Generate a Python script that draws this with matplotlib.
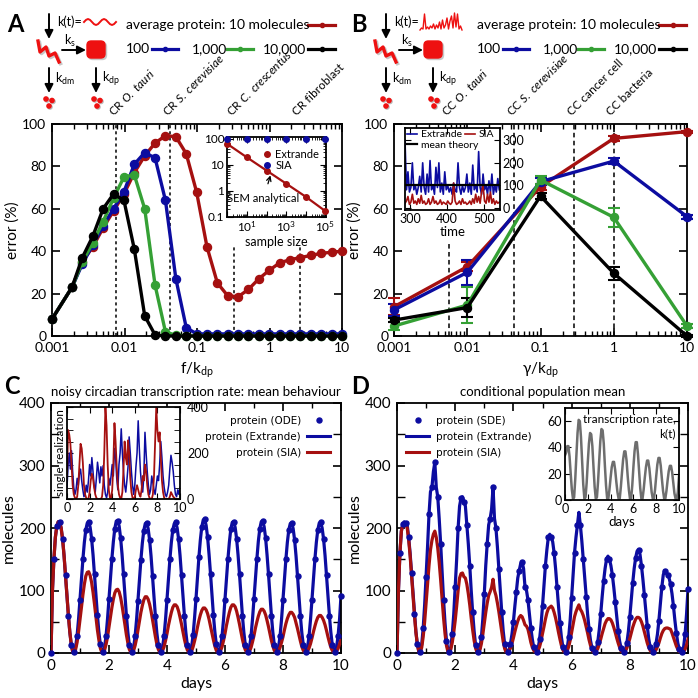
import numpy as np
import matplotlib
matplotlib.use('Agg')
import matplotlib.pyplot as plt
from matplotlib.patches import FancyBboxPatch, Circle
from matplotlib.lines import Line2D
from matplotlib.ticker import LogLocator, NullFormatter, FixedLocator, MultipleLocator, FixedFormatter

plt.rcParams['font.family'] = ['Lato', 'DejaVu Sans']
plt.rcParams['mathtext.fontset'] = 'custom'
plt.rcParams['mathtext.rm'] = 'Lato'
plt.rcParams['mathtext.it'] = 'Lato:italic'
plt.rcParams['mathtext.bf'] = 'Lato:bold'
plt.rcParams['axes.linewidth'] = 1.3
plt.rcParams['xtick.direction'] = 'in'
plt.rcParams['ytick.direction'] = 'in'

RED = '#a51010'
BLUE = '#0c0ca0'
GREEN = '#35a035'
BLACK = '#000000'
GREY = '#6e6e6e'

# ---------------- Panel A data ----------------
f_ratio = [0.001, 0.00189, 0.00262, 0.00365, 0.00507, 0.00706, 0.00982, 0.01365, 0.0190,
           0.0264, 0.0367, 0.0511, 0.0710, 0.0986, 0.1374, 0.191, 0.265, 0.369, 0.513,
           0.714, 0.993, 1.38, 1.92, 2.67, 3.71, 5.16, 7.18, 10.0]
err_a_10 = [8, 23, 35, 42, 51, 59, 67, 77, 85, 91, 94.5, 94, 86, 68, 42, 25, 19, 18.5, 22,
            27, 31, 34.5, 36, 37, 38, 39, 39.5, 40]
err_a_100 = [8, 23, 34, 43, 52, 60, 68, 81, 86.5, 84, 64, 27, 4, 1, 1, 1, 1, 1, 1,
             1, 1, 1, 1, 1, 1, 1, 1, 1]
err_a_1000 = [8, 23, 35, 44, 54, 65, 75, 76, 60, 24, 2, 0.3, 0, 0, 0, 0, 0, 0, 0,
              0, 0, 0, 0, 0, 0, 0, 0, 0]
err_a_10000 = [8, 23, 37, 47, 60, 67, 64, 41, 9.5, 0.5, 0, 0, 0, 0, 0, 0, 0, 0, 0,
               0, 0, 0, 0, 0, 0, 0, 0, 0]
cr_lines_a = [0.0077, 0.043, 0.32, 2.6]
cr_tops_a = [1.0, 1.0, 0.42, 0.42]
cr_labels_a = ['CR $\\it{O.\\ tauri}$', 'CR $\\it{S.\\ cerevisiae}$',
               'CR $\\it{C.\\ crescentus}$', 'CR fibroblast']

sample_size = [1, 10, 100, 1000, 10000, 100000]
sem_extrande = [62, 19, 6, 1.9, 0.6, 0.17]
err_sia_inset = [97, 97, 95, 96, 95, 95]

# ---------------- Panel B data ----------------
gamma_ratio = [0.001, 0.01, 0.1, 1, 10]
err_b_10 = [13.8, 32.7, 70.4, 93.2, 96.4]
sd_b_10 = [4, 2, 1.5, 1, 0.5]
err_b_100 = [12.3, 30, 72.8, 82.5, 56.3]
sd_b_100 = [3, 6, 1.5, 1.5, 1]
err_b_1000 = [4.7, 14.6, 73.6, 56, 4.7]
sd_b_1000 = [2, 8.5, 2, 4.5, 1]
err_b_10000 = [7.5, 13.4, 66, 29.6, 0]
sd_b_10000 = [1, 4.5, 1.5, 3, 0.5]
cc_lines_b = [0.0057, 0.044, 0.29, 1.0]
cc_tops_b = [0.45, 1.0, 1.0, 1.0]
cc_labels_b = ['CC $\\it{O.\\ tauri}$', 'CC $\\it{S.\\ cerevisiae}$', 'CC cancer cell', 'CC bacteria']

time_b = [286, 290, 294, 298, 302, 306, 310, 314, 318, 322, 326, 330, 334, 338, 342, 346,
          350, 354, 358, 362, 366, 370, 374, 378, 382, 386, 390, 394, 398, 402, 406, 410,
          414, 418, 422, 426, 430, 434, 438, 442, 446, 450, 454, 458, 462, 466, 470, 474,
          478, 482, 486, 490, 494, 498, 502, 506, 510, 514, 518, 522, 526, 530, 534, 538, 542]
extrande_b = [300, 80, 160, 70, 90, 200, 80, 100, 60, 90, 140, 70, 200, 90, 60, 150,
              70, 210, 80, 100, 60, 180, 90, 200, 70, 110, 60, 160, 80, 100, 70, 90,
              60, 110, 80, 70, 200, 90, 60, 100, 70, 90, 150, 70, 110, 60, 190, 80,
              100, 70, 250, 90, 60, 150, 80, 100, 60, 120, 70, 150, 60, 100, 70, 130, 80]
sia_b = [20, 30, 50, 15, 25, 60, 20, 30, 15, 40, 20, 55, 20, 30, 15, 20,
         40, 15, 25, 50, 20, 30, 15, 20, 35, 15, 25, 20, 15, 30, 20, 15,
         25, 110, 30, 15, 20, 30, 15, 40, 20, 25, 15, 20, 30, 15, 40, 20,
         60, 25, 50, 20, 70, 100, 30, 20, 60, 25, 70, 20, 40, 15, 30, 20, 25]
mean_theory_b = 100

# ---------------- Panel C data ----------------
t_line = np.linspace(0, 10, 201)
extrande_c = [0, 100, 150, 185, 203, 210, 209, 200, 182, 156, 125, 92, 60, 33, 13, 2,
              1, 10, 28, 54, 85, 118, 150, 177, 197, 208, 210, 201, 183, 157, 126, 93, 61, 34, 14, 3,
              1, 10, 28, 55, 86, 119, 151, 178, 199, 211, 212, 203, 184, 158, 126, 92, 60, 33, 13, 2,
              1, 9, 27, 53, 84, 117, 149, 176, 196, 207, 208, 199, 181, 155, 124, 91, 59, 32, 13, 2,
              1, 10, 28, 54, 85, 118, 150, 177, 197, 207, 209, 200, 182, 156, 125, 92, 60, 33, 13, 2,
              1, 10, 29, 56, 87, 121, 153, 181, 202, 213, 214, 204, 185, 158, 127, 93, 61, 34, 14, 2,
              1, 10, 28, 54, 85, 118, 150, 177, 198, 209, 210, 201, 183, 157, 126, 92, 60, 33, 13, 2,
              1, 10, 28, 55, 86, 119, 151, 179, 199, 210, 211, 202, 184, 157, 126, 92, 60, 33, 13, 2,
              1, 10, 28, 54, 85, 118, 150, 177, 197, 207, 208, 199, 181, 155, 124, 91, 59, 32, 13, 2,
              1, 10, 28, 54, 85, 118, 150, 177, 197, 208, 209, 200, 182, 156, 125, 92, 60, 33, 13, 2,
              1, 10, 28, 54, 92]
sia_c = [0, 100, 150, 185, 203, 210, 209, 200, 182, 156, 125, 92, 60, 33, 13, 2,
         1, 6, 17, 34, 53, 73, 93, 110, 123, 129, 130, 124, 113, 97, 78, 57, 37, 21, 8, 1,
         1, 5, 14, 26, 42, 58, 73, 86, 96, 101, 102, 98, 89, 76, 61, 45, 29, 16, 6, 1,
         0, 4, 12, 23, 37, 51, 65, 76, 85, 90, 90, 86, 78, 67, 54, 40, 26, 14, 6, 1,
         0, 4, 10, 20, 31, 44, 55, 65, 73, 77, 77, 74, 67, 57, 46, 34, 22, 12, 5, 1,
         0, 3, 10, 19, 29, 41, 52, 61, 68, 72, 72, 69, 63, 54, 43, 32, 21, 11, 4, 1,
         0, 4, 10, 20, 31, 44, 55, 65, 73, 77, 77, 74, 67, 57, 46, 34, 22, 12, 5, 1,
         0, 3, 9, 18, 28, 40, 50, 59, 66, 70, 70, 67, 61, 52, 42, 31, 20, 11, 4, 1,
         0, 3, 9, 17, 26, 37, 47, 55, 61, 65, 65, 62, 57, 48, 39, 29, 19, 10, 4, 1,
         0, 3, 8, 15, 24, 34, 43, 51, 57, 60, 60, 57, 52, 45, 36, 26, 17, 9, 4, 1,
         0, 3, 7, 14, 22]

t_single = np.linspace(0, 10, 101)
single_sia = [100, 300, 280, 240, 150, 60, 20, 5, 0, 10,
              60, 150, 240, 220, 160, 60, 20, 5, 0, 0,
              30, 80, 110, 90, 50, 20, 5, 0, 0, 0,
              0, 10, 60, 200, 400, 320, 150, 40, 5, 0,
              40, 150, 330, 250, 140, 60, 20, 5, 0, 30,
              130, 250, 180, 150, 255, 200, 90, 30, 5, 0,
              10, 40, 60, 40, 20, 10, 40, 100, 80, 150,
              120, 60, 20, 5, 0, 0, 20, 100, 250, 400,
              300, 250, 290, 180, 80, 30, 5, 0, 0, 0,
              0, 10, 30, 20, 10, 5, 0, 0, 0, 0, 0]
single_extrande = [50, 150, 200, 130, 210, 120, 50, 20, 40, 90,
                   60, 110, 130, 80, 40, 10, 20, 60, 30, 80,
                   150, 100, 180, 120, 60, 30, 90, 160, 120, 70,
                   140, 100, 145, 60, 20, 5, 30, 90, 60, 100,
                   150, 100, 220, 180, 90, 40, 150, 200, 305, 200,
                   120, 60, 30, 80, 140, 270, 200, 120, 60, 20,
                   60, 140, 200, 340, 220, 120, 60, 30, 100, 290,
                   200, 120, 60, 20, 40, 100, 70, 40, 20, 60,
                   100, 80, 150, 250, 180, 100, 50, 20, 10, 30,
                   60, 130, 190, 160, 120, 60, 20, 10, 40, 20, 50]

# ---------------- Panel D data ----------------
extrande_d = [0, 100, 160, 195, 207, 210, 208, 205, 185, 160, 128, 94, 62, 34, 14, 3,
              2, 14, 40, 77, 122, 170, 222, 258, 265, 290, 305, 265, 250, 215, 175, 130, 85, 48, 20, 4,
              1, 10, 30, 62, 105, 150, 200, 235, 248, 250, 242, 235, 205, 175, 140, 100, 65, 35, 13, 2,
              1, 8, 25, 55, 95, 140, 175, 205, 215, 230, 265, 215, 200, 170, 135, 100, 65, 35, 14, 3,
              1, 5, 15, 30, 50, 75, 98, 120, 132, 143, 145, 135, 105, 100, 85, 62, 40, 22, 9, 2,
              1, 7, 22, 45, 75, 108, 140, 165, 185, 190, 185, 178, 160, 135, 105, 75, 48, 25, 10, 2,
              1, 8, 25, 52, 88, 125, 160, 185, 205, 225, 205, 180, 150, 120, 90, 62, 38, 20, 8, 2,
              1, 6, 18, 37, 62, 90, 115, 135, 150, 155, 150, 140, 125, 105, 82, 58, 36, 19, 8, 2,
              1, 5, 16, 34, 58, 85, 112, 135, 152, 163, 165, 158, 140, 118, 93, 67, 43, 23, 9, 2,
              1, 5, 15, 30, 52, 78, 105, 125, 132, 128, 125, 120, 110, 95, 75, 52, 32, 16, 6, 1,
              1, 10, 30, 62, 102]
sia_d = [0, 100, 160, 195, 205, 208, 206, 200, 182, 156, 125, 92, 60, 33, 13, 2,
         1, 9, 26, 50, 79, 110, 140, 165, 180, 190, 195, 185, 168, 145, 117, 86, 56, 31, 12, 2,
         1, 6, 17, 33, 52, 75, 100, 120, 127, 128, 122, 120, 110, 95, 77, 56, 37, 20, 8, 1,
         1, 5, 15, 30, 48, 65, 80, 92, 98, 105, 118, 100, 92, 80, 66, 50, 33, 18, 7, 1,
         0, 3, 8, 15, 24, 34, 43, 51, 57, 60, 58, 52, 45, 43, 38, 28, 17, 9, 4, 1,
         0, 4, 10, 19, 31, 42, 54, 64, 71, 73, 75, 72, 65, 56, 45, 33, 22, 12, 5, 1,
         0, 4, 10, 20, 33, 46, 58, 66, 72, 77, 70, 66, 60, 52, 42, 32, 21, 12, 5, 1,
         0, 3, 7, 14, 22, 31, 39, 47, 52, 55, 55, 53, 48, 41, 33, 24, 16, 9, 3, 1,
         0, 3, 8, 15, 23, 32, 41, 48, 54, 57, 57, 55, 50, 43, 34, 25, 16, 9, 4, 1,
         0, 2, 5, 10, 16, 24, 31, 36, 39, 40, 40, 39, 38, 32, 25, 18, 11, 6, 2, 0,
         0, 2, 6, 13, 22]

t_k = np.linspace(0, 10, 101)
k_rate = [34, 36, 41, 41, 33, 20, 8, 1, 2, 16,
          34, 51, 61, 60, 48, 30, 12, 1, 2, 13,
          29, 43, 51, 50, 41, 25, 10, 1, 2, 14,
          30, 45, 54, 53, 43, 26, 11, 1, 1, 8,
          17, 25, 29, 29, 23, 14, 6, 1, 1, 10,
          21, 31, 37, 37, 30, 18, 8, 1, 1, 11,
          25, 37, 44, 44, 35, 22, 9, 1, 1, 8,
          17, 25, 30, 30, 24, 15, 6, 1, 1, 8,
          18, 27, 32, 32, 26, 16, 7, 1, 1, 7,
          15, 22, 26, 26, 21, 13, 5, 1, 1, 6, 18]

# schematic decorations (pixel offsets)
wave_a = [0, 2.1, 3, 2.1, 0, -2.1, -3, -2.1, 0, 2.1, 3, 2.1, 0, -2.1, -3, -2.1, 0]
spikes_b = [0, 2, 1, 16, 1, 3, 1, 4, 2, 6, 1, 5, 2, 8, 1, 10, 2, 5, 12, 1, 9, 14, 2, 17, 3, 16, 1, 4, 0]

W = H = 698
fig = plt.figure(figsize=(6.98, 6.98), dpi=100)


def rect(l, t, r, b):
    return [l / W, 1 - b / H, (r - l) / W, (b - t) / H]


def style_ticks(ax, size=10):
    ax.tick_params(which='both', direction='in', top=True, right=True, labelsize=size, pad=4)
    ax.tick_params(which='major', length=6, width=1.2)
    ax.tick_params(which='minor', length=3.5, width=1.0)


# ---------------- Panel A ----------------
axA = fig.add_axes(rect(52, 124, 342, 336))
for ys, col in [(err_a_10, RED), (err_a_100, BLUE), (err_a_1000, GREEN), (err_a_10000, BLACK)]:
    axA.plot(f_ratio, ys, color=col, lw=2.4, marker='o', ms=5.8, clip_on=False, zorder=3)
axA.set_xscale('log')
axA.set_xlim(0.001, 10)
axA.set_ylim(0, 100)
axA.set_yticks([0, 20, 40, 60, 80, 100])
axA.set_xticks([0.001, 0.01, 0.1, 1, 10])
axA.set_xticklabels(['0.001', '0.01', '0.1', '1', '10'])
axA.xaxis.set_minor_locator(LogLocator(base=10, subs=np.arange(2, 10), numticks=20))
axA.xaxis.set_minor_formatter(NullFormatter())
style_ticks(axA)
for xv, top in zip(cr_lines_a, cr_tops_a):
    axA.axvline(xv, ymin=0, ymax=top, color='k', lw=1.1, ls=(0, (2, 2)), zorder=1)
for xv, lab in zip(cr_lines_a, cr_labels_a):
    axA.text(xv * 0.97, 1.03, lab, transform=axA.get_xaxis_transform(), rotation=45,
             ha='left', va='bottom', rotation_mode='anchor', fontsize=8.5)
axA.set_xlabel('f/k$_{\\rm dp}$', fontsize=11, labelpad=5)
axA.set_ylabel('error (%)', fontsize=11, labelpad=2)

# inset A
axAi = fig.add_axes(rect(227, 137, 326, 217))
axAi.plot(sample_size, sem_extrande, color=RED, lw=1.6, zorder=2)
axAi.plot(sample_size, sem_extrande, 'o', color=RED, ms=4, clip_on=False, zorder=3)
axAi.plot(sample_size, err_sia_inset, 'o', color=BLUE, ms=4, clip_on=False, zorder=3)
axAi.set_xscale('log')
axAi.set_yscale('log')
axAi.set_xlim(0.95, 1.1e5)
axAi.set_ylim(0.1, 115)
axAi.xaxis.set_major_locator(FixedLocator([1, 10, 100, 1000, 1e4, 1e5]))
axAi.xaxis.set_major_formatter(FixedFormatter(['', '10$^1$', '', '10$^3$', '', '10$^5$']))
axAi.xaxis.set_minor_locator(LogLocator(base=10, subs=np.arange(2, 10), numticks=20))
axAi.xaxis.set_minor_formatter(NullFormatter())
axAi.yaxis.set_major_locator(FixedLocator([0.1, 1, 10, 100]))
axAi.yaxis.set_major_formatter(FixedFormatter(['0.1', '1', '10', '100']))
axAi.yaxis.set_minor_locator(LogLocator(base=10, subs=np.arange(2, 10), numticks=20))
axAi.yaxis.set_minor_formatter(NullFormatter())
axAi.tick_params(which='both', direction='in', top=True, right=True, labelsize=8.5, pad=2)
axAi.tick_params(which='major', length=4)
axAi.tick_params(which='minor', length=2)
axAi.set_xlabel('sample size', fontsize=9, labelpad=1)
axAi.legend(handles=[Line2D([], [], ls='', marker='o', color=RED, ms=4, label='Extrande'),
                     Line2D([], [], ls='', marker='o', color=BLUE, ms=4, label='SIA')],
            loc='upper right', bbox_to_anchor=(1.0, 0.93), frameon=False, fontsize=8,
            handlelength=0.8, handletextpad=0.4, labelspacing=0.0, borderaxespad=0.2)
axAi.annotate('SEM analytical', xy=(166, 4.4), xytext=(70, 0.5), fontsize=8,
              ha='center', va='center',
              arrowprops=dict(arrowstyle='->', color='k', lw=0.9, shrinkA=5, shrinkB=1))

# ---------------- Panel B ----------------
axB = fig.add_axes(rect(394, 124, 687, 336))
for ys, es, col in [(err_b_10, sd_b_10, RED), (err_b_100, sd_b_100, BLUE),
                    (err_b_1000, sd_b_1000, GREEN), (err_b_10000, sd_b_10000, BLACK)]:
    axB.errorbar(gamma_ratio, ys, yerr=es, color=col, lw=2.4, marker='o', ms=5.8,
                 capsize=4.5, capthick=1.5, elinewidth=1.5, clip_on=False, zorder=3)
axB.set_xscale('log')
axB.set_xlim(0.001, 10)
axB.set_ylim(0, 100)
axB.set_yticks([0, 20, 40, 60, 80, 100])
axB.set_xticks([0.001, 0.01, 0.1, 1, 10])
axB.set_xticklabels(['0.001', '0.01', '0.1', '1', '10'])
axB.xaxis.set_minor_locator(LogLocator(base=10, subs=np.arange(2, 10), numticks=20))
axB.xaxis.set_minor_formatter(NullFormatter())
style_ticks(axB)
for xv, top in zip(cc_lines_b, cc_tops_b):
    axB.axvline(xv, ymin=0, ymax=top, color='k', lw=1.1, ls=(0, (3, 2.2)), zorder=1)
for xv, lab in zip(cc_lines_b, cc_labels_b):
    axB.text(xv * 0.97, 1.03, lab, transform=axB.get_xaxis_transform(), rotation=45,
             ha='left', va='bottom', rotation_mode='anchor', fontsize=8.5)
axB.set_xlabel('γ/k$_{\\rm dp}$', fontsize=11, labelpad=5)
axB.set_ylabel('error (%)', fontsize=11, labelpad=2)

# inset B
axBi = fig.add_axes(rect(405, 128, 500, 210))
lb1, = axBi.plot(time_b, extrande_b, color=BLUE, lw=1.2, label='Extrande')
lb2, = axBi.plot(time_b, sia_b, color=RED, lw=1.2, label='SIA')
lb3 = axBi.axhline(mean_theory_b, color='k', lw=1.6, label='mean theory')
axBi.set_xlim(286, 544)
axBi.set_ylim(-10, 355)
axBi.yaxis.tick_right()
axBi.set_yticks([0, 100, 200, 300])
axBi.set_xticks([300, 400, 500])
axBi.tick_params(which='both', direction='in', top=True, left=True, right=True, labelsize=9, pad=2,
                 length=4)
axBi.set_xlabel('time', fontsize=9.5, labelpad=1)
legB1 = axBi.legend(handles=[lb1, lb2], ncol=2, loc='upper left', frameon=False,
                    fontsize=7.5, handlelength=1.0, handletextpad=0.3, columnspacing=0.3,
                    borderaxespad=0.05, borderpad=0.15)
axBi.add_artist(legB1)
axBi.legend(handles=[lb3], loc='upper left', bbox_to_anchor=(0.0, 0.87), frameon=False,
            fontsize=7.5, handlelength=1.0, handletextpad=0.3, borderaxespad=0.05, borderpad=0.15)

# ---------------- Panel C ----------------
axC = fig.add_axes(rect(51, 403, 341, 653))
axC.plot(t_line, extrande_c, color=BLUE, lw=2.3, zorder=2)
axC.plot(t_line, sia_c, color=RED, lw=2.3, zorder=3)
axC.plot(t_line[::2], extrande_c[::2], 'o', color=BLUE, ms=3.6, zorder=4, clip_on=False)
axC.set_xlim(0, 10)
axC.set_ylim(0, 400)
axC.set_xticks([0, 2, 4, 6, 8, 10])
axC.set_yticks([0, 100, 200, 300, 400])
axC.yaxis.set_minor_locator(MultipleLocator(50))
axC.xaxis.set_minor_locator(MultipleLocator(1))
style_ticks(axC, 11)
axC.tick_params(axis='y', which='minor', length=6)
axC.set_xlabel('days', fontsize=11.5, labelpad=3)
axC.set_ylabel('molecules', fontsize=11.5, labelpad=2)
axC.set_title('noisy circadian transcription rate: mean behaviour', fontsize=9.5, pad=5)
axC.legend(handles=[Line2D([], [], ls='', marker='o', color=BLUE, ms=3.6, label='protein (ODE)'),
                    Line2D([], [], color=BLUE, lw=2.2, label='protein (Extrande)'),
                    Line2D([], [], color=RED, lw=2.2, label='protein (SIA)')],
           loc='upper right', bbox_to_anchor=(0.995, 0.985), markerfirst=False, frameon=False,
           prop={'family': 'DejaVu Sans', 'size': 7.5}, handlelength=2.2, handletextpad=0.6,
           labelspacing=0.55, numpoints=1)

# inset C
axCi = fig.add_axes(rect(67, 407, 180, 499))
axCi.plot(t_single, single_extrande, color=BLUE, lw=1.1)
axCi.plot(t_single, single_sia, color=RED, lw=1.3)
axCi.set_xlim(0, 10)
axCi.set_ylim(0, 400)
axCi.yaxis.tick_right()
axCi.set_yticks([0, 200, 400])
axCi.yaxis.set_minor_locator(MultipleLocator(50))
axCi.set_xticks([0, 2, 4, 6, 8, 10])
axCi.tick_params(which='both', direction='in', top=True, left=True, right=True, labelsize=9, pad=2)
axCi.tick_params(axis='y', pad=5)
axCi.tick_params(which='major', length=4)
axCi.tick_params(which='minor', length=4)
axCi.yaxis.set_label_position('left')
axCi.set_ylabel('single realization', fontsize=8.5, labelpad=1)

# ---------------- Panel D ----------------
axD = fig.add_axes(rect(397, 403, 688, 653))
axD.plot(t_line, extrande_d, color=BLUE, lw=2.3, zorder=2)
axD.plot(t_line, sia_d, color=RED, lw=2.3, zorder=3)
axD.plot(t_line[::2], extrande_d[::2], 'o', color=BLUE, ms=3.6, zorder=4, clip_on=False)
axD.set_xlim(0, 10)
axD.set_ylim(0, 400)
axD.set_xticks([0, 2, 4, 6, 8, 10])
axD.set_yticks([0, 100, 200, 300, 400])
axD.yaxis.set_minor_locator(MultipleLocator(50))
axD.xaxis.set_minor_locator(MultipleLocator(1))
style_ticks(axD, 11)
axD.tick_params(axis='y', which='minor', length=6)
axD.set_xlabel('days', fontsize=11.5, labelpad=3)
axD.set_ylabel('molecules', fontsize=11.5, labelpad=2)
axD.set_title('conditional population mean', fontsize=9.5, pad=5)
axD.legend(handles=[Line2D([], [], ls='', marker='o', color=BLUE, ms=3.6, label='protein (SDE)'),
                    Line2D([], [], color=BLUE, lw=2.2, label='protein (Extrande)'),
                    Line2D([], [], color=RED, lw=2.2, label='protein (SIA)')],
           loc='upper left', bbox_to_anchor=(0.0, 0.985), frameon=False,
           prop={'family': 'DejaVu Sans', 'size': 7.5}, handlelength=2.2, handletextpad=0.6,
           labelspacing=0.55, numpoints=1)

# inset D
axDi = fig.add_axes(rect(565, 408, 679, 500))
axDi.plot(t_k, k_rate, color=GREY, lw=1.8)
axDi.set_xlim(0, 10)
axDi.set_ylim(0, 70)
axDi.set_xticks([0, 2, 4, 6, 8, 10])
axDi.set_yticks([0, 20, 40, 60])
axDi.tick_params(which='both', direction='in', top=True, right=True, labelsize=9, pad=2, length=4)
axDi.set_xlabel('days', fontsize=9.5, labelpad=1)
axDi.text(0.97, 0.93, 'transcription rate,\nk(t)', transform=axDi.transAxes, ha='right', va='top',
          fontsize=8.5, linespacing=1.3)

# ---------------- overlay: letters, schematics, top legends ----------------
ov = fig.add_axes([0, 0, 1, 1])
ov.set_xlim(0, W)
ov.set_ylim(H, 0)
ov.axis('off')
ov.patch.set_alpha(0)

for letter, x, y in [('A', 7, 25), ('B', 351, 25), ('C', 4, 386), ('D', 351, 386)]:
    ov.text(x, y, letter, fontsize=17, fontweight='bold', ha='left', va='center')


def arrow(x0, y0, x1, y1):
    ov.annotate('', xy=(x1, y1), xytext=(x0, y0),
                arrowprops=dict(arrowstyle='-|>,head_width=0.25,head_length=0.5', color='k', lw=1.4,
                                shrinkA=0, shrinkB=0))


def schematic(dx, kind):
    arrow(49 + dx, 14, 49 + dx, 39)
    ov.text(57 + dx, 22, 'k(t)=', fontsize=9, ha='left', va='center')
    if kind == 'wave':
        xs = np.linspace(84 + dx, 116 + dx, len(wave_a))
        ov.plot(xs, [22 - v for v in wave_a], color='#ee1111', lw=1.4)
    else:
        xs = np.linspace(420 + dx - 337, 462 + dx - 337, len(spikes_b))
        ov.plot(xs, [30 - v for v in spikes_b], color='#ee1111', lw=1.0)
    sq = [(38, 41), (40, 52), (46, 47), (49, 56), (55, 53), (59, 62)]
    ov.plot([p[0] + dx + 1.5 for p in sq], [p[1] + 1.5 for p in sq], color='#bbbbbb', lw=2.6,
            solid_joinstyle='round', alpha=0.8)
    ov.plot([p[0] + dx for p in sq], [p[1] for p in sq], color='#ee1111', lw=2.4,
            solid_joinstyle='round')
    arrow(62 + dx, 50, 86 + dx, 50)
    ov.text(64 + dx, 41, 'k$_{\\rm s}$', fontsize=9, ha='left', va='center')
    ov.add_patch(FancyBboxPatch((90 + dx, 44), 15, 14, boxstyle='round,pad=2.2,rounding_size=5',
                                fc='#bbbbbb', ec='none', alpha=0.8))
    ov.add_patch(FancyBboxPatch((88.5 + dx, 42.5), 15, 14, boxstyle='round,pad=2.2,rounding_size=5',
                                fc='#ee1111', ec='none'))
    arrow(49 + dx, 68, 49 + dx, 93)
    ov.text(55 + dx, 79, 'k$_{\\rm dm}$', fontsize=9, ha='left', va='center')
    arrow(96 + dx, 68, 96 + dx, 93)
    ov.text(102 + dx, 79, 'k$_{\\rm dp}$', fontsize=9, ha='left', va='center')
    for cx in (46, 94):
        for ddx, ddy in [(0, 0), (6, 1.5), (3, 7)]:
            ov.add_patch(Circle((cx + ddx + dx + 1, 99 + ddy + 1), 2.8, fc='#bbbbbb', ec='none'))
            ov.add_patch(Circle((cx + ddx + dx, 99 + ddy), 2.8, fc='#ee1111', ec='none'))


def legline(x0, x1, y, col):
    ov.plot([x0, x1], [y, y], color=col, lw=2.3)
    ov.plot([(x0 + x1) / 2], [y], 'o', color=col, ms=3)


def top_legend(x0):
    ov.text(x0, 25, 'average protein: 10 molecules', fontsize=10, ha='left', va='center')
    legline(x0 + 182, x0 + 209, 25, RED)
    ov.text(x0, 49, '100', fontsize=10, ha='left', va='center')
    legline(x0 + 26, x0 + 52, 49, BLUE)
    ov.text(x0 + 66, 49, '1,000', fontsize=10, ha='left', va='center')
    legline(x0 + 101, x0 + 127, 49, GREEN)
    ov.text(x0 + 137, 49, '10,000', fontsize=10, ha='left', va='center')
    legline(x0 + 182, x0 + 209, 49, BLACK)


schematic(0, 'wave')
schematic(337, 'spikes')
top_legend(126)
top_legend(477)

fig.savefig('out.png', dpi=100)
